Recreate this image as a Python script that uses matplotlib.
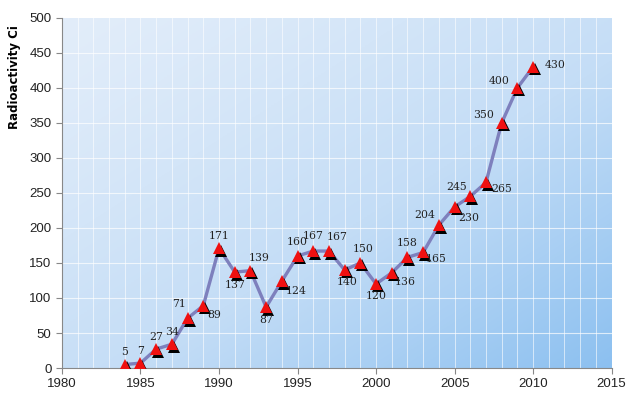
import numpy as np
import matplotlib
matplotlib.use("Agg")
import matplotlib.pyplot as plt
import matplotlib.transforms as mtransforms
from matplotlib.colors import LinearSegmentedColormap

years = list(range(1984, 2011))
values = [5, 7, 27, 34, 71, 89, 171, 137, 139, 87, 124, 160, 167, 167, 140,
          150, 120, 136, 158, 165, 204, 230, 245, 265, 350, 400, 430]
# where each data label sits relative to its point (x px, y px)
label_offsets = [(0, 9), (0, 9), (0, 9), (0, 9), (-6, 10), (8, -7), (0, 9),
                 (0, -9), (6, 9), (0, -9), (10, -7), (0, 10), (0, 11), (6, 10),
                 (2, -9), (2, 10), (0, -9), (10, -7), (0, 10), (9, -5),
                 (-10, 7), (10, -8), (-10, 7), (11, -5), (-13, 6), (-13, 5), (16, 1)]

fig = plt.figure(figsize=(6.26, 3.97), dpi=100)
ax = fig.add_axes([0.099, 0.073, 0.878, 0.882])

# diagonal blue gradient background, light top-left -> darker bottom-right
nx, ny = 200, 200
gx, gy = np.meshgrid(np.linspace(0, 1, nx), np.linspace(0, 1, ny))
grad = (0.5 * gx + 0.5 * gy) ** 1.2
cmap = LinearSegmentedColormap.from_list("bg", ["#e2edfa", "#c4ddf6", "#8cc0f0"])
ax.imshow(grad, extent=[1980, 2015, 0, 500], origin="upper", cmap=cmap,
          aspect="auto", zorder=0)

for x in range(1981, 2015):
    ax.axvline(x, color="white", lw=0.7, alpha=0.6, zorder=1)
for y in range(50, 500, 50):
    ax.axhline(y, color="white", lw=0.8, alpha=0.7, zorder=1)

ax.plot(years, values, color="#7e80bd", lw=2.4, zorder=2)
shadow = mtransforms.offset_copy(ax.transData, fig=fig, x=2, y=-2.5, units="dots")
ax.plot(years, values, "^", color="black", ms=8, mew=0, transform=shadow, zorder=3)
ax.plot(years, values, "^", color="#f01010", ms=8, mew=0, zorder=4)

for x, v, (dx, dy) in zip(years, values, label_offsets):
    ax.annotate(str(v), (x, v), xytext=(dx, dy), textcoords="offset points",
                ha="center", va="center", fontsize=7.8, family="DejaVu Serif",
                color="#222222", zorder=5)

ax.set_xlim(1980, 2015)
ax.set_ylim(0, 500)
ax.set_xticks(range(1980, 2016, 5))
ax.set_yticks(range(0, 501, 50))
ax.tick_params(labelsize=9.5, color="#888888", length=4, labelcolor="#222222")
for lab in ax.get_xticklabels() + ax.get_yticklabels():
    lab.set_family("Liberation Sans")
for s in ["top", "right"]:
    ax.spines[s].set_visible(False)
for s in ["left", "bottom"]:
    ax.spines[s].set_color("#888888")
ax.set_ylabel("Radioactivity Ci", fontsize=8.5, fontweight="bold", labelpad=2)
ax.yaxis.set_label_coords(-0.075, 0.83)

fig.savefig("out.png", dpi=100)
